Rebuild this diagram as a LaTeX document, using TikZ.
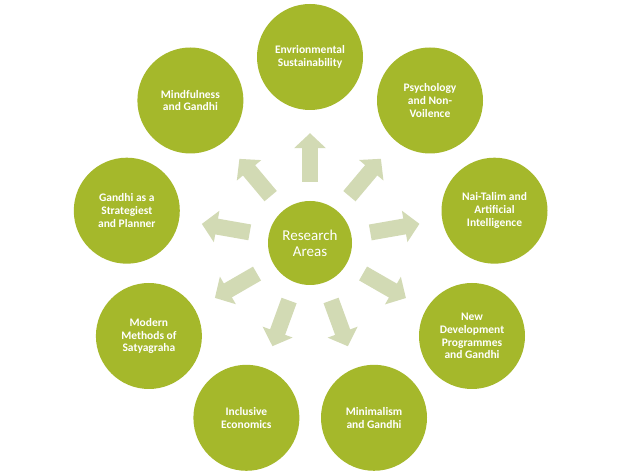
\documentclass[tikz,border=0pt]{standalone}
\usepackage{fontspec}
\setmainfont{Carlito}
\usepackage{tikz}
\usetikzlibrary{arrows.meta}
\definecolor{leaf}{HTML}{A5B82B}
\definecolor{sage}{HTML}{D2DAB4}

\begin{document}
\begin{tikzpicture}[x=1pt,y=1pt,
    area/.style={circle, fill=leaf, minimum size=106pt, inner sep=0pt, text=white, align=center, font=\fontsize{11.5}{12.8}\selectfont\bfseries},
    hub/.style={circle, fill=leaf, minimum size=84pt, inner sep=0pt, text=white, align=center, font=\fontsize{15}{16}\selectfont},
    spoke/.style={sage, line width=16pt, -{Triangle[width=31pt,length=15pt]}, shorten <=19pt, shorten >=23pt}]
    \useasboundingbox (0,0) rectangle (621,476);
    \fill[white] (0,0) rectangle (621,476);
    \node[hub] (hub) at (310,233) {Research\\Areas};
    \node[area] (env) at (310,419) {Envrionmental\\Sustainability};
    \node[area] (psy) at (430,375.5) {Psychology\\and Non-\\Voilence};
    \node[area] (nai) at (494.5,265.3) {Nai-Talim and\\Artificial\\Intelligence};
    \node[area] (ndp) at (472,140) {New\\Development\\Programmes\\and Gandhi};
    \node[area] (mini) at (374,58.2) {Minimalism\\and Gandhi};
    \node[area] (incl) at (246.4,58.2) {Inclusive\\Economics};
    \node[area] (sat) at (148.9,140) {Modern\\Methods of\\Satyagraha};
    \node[area] (strat) at (126.8,265.3) {Gandhi as a\\Strategiest\\and Planner};
    \node[area] (mind) at (190.4,375.5) {Mindfulness\\and Gandhi};
    \draw[spoke] (hub) -- (env);
    \draw[spoke] (hub) -- (psy);
    \draw[spoke] (hub) -- (nai);
    \draw[spoke] (hub) -- (ndp);
    \draw[spoke] (hub) -- (mini);
    \draw[spoke] (hub) -- (incl);
    \draw[spoke] (hub) -- (sat);
    \draw[spoke] (hub) -- (strat);
    \draw[spoke] (hub) -- (mind);
\end{tikzpicture}
\end{document}
